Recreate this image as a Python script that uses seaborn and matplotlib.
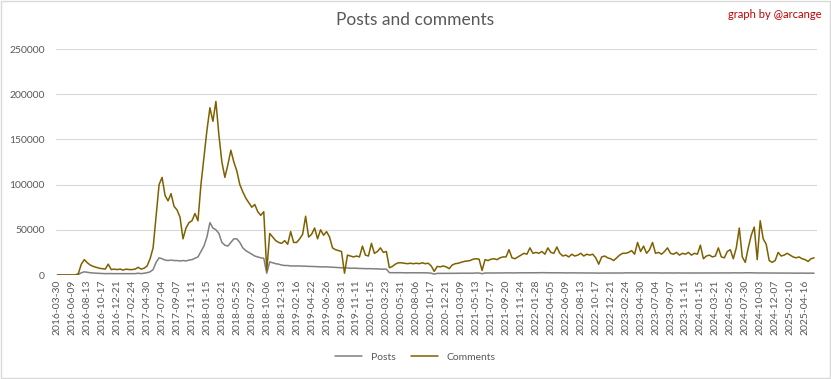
import numpy as np
import pandas as pd
import matplotlib
matplotlib.use("Agg")
import matplotlib.pyplot as plt
import seaborn as sns


# one label every 65 rows of the daily table
tick_labels = [
    "2016-03-30", "2016-06-09", "2016-08-13", "2016-10-17", "2016-12-21",
    "2017-02-24", "2017-04-30", "2017-07-04", "2017-09-07", "2017-11-11",
    "2018-01-15", "2018-03-21", "2018-05-25", "2018-07-29", "2018-10-06",
    "2018-12-13", "2019-02-16", "2019-04-22", "2019-06-26", "2019-08-31",
    "2019-11-11", "2020-01-15", "2020-03-23", "2020-05-31", "2020-08-06",
    "2020-10-17", "2020-12-21", "2021-03-09", "2021-05-13", "2021-07-17",
    "2021-09-20", "2021-11-24", "2022-01-28", "2022-04-05", "2022-06-09",
    "2022-08-13", "2022-10-17", "2022-12-21", "2023-02-24", "2023-04-30",
    "2023-07-04", "2023-09-07", "2023-11-11", "2024-01-15", "2024-03-21",
    "2024-05-26", "2024-07-30", "2024-10-03", "2024-12-07", "2025-02-10",
    "2025-04-16",
]

# values, one every 13 rows (5 per label interval)
comments = [
    0, 0, 0, 0, 0,
    0, 0, 1500, 12000, 17000,
    13500, 11000, 9500, 8500, 7500,
    7000, 6500, 12000, 6000, 6500,
    6000, 6500, 5500, 6500, 6000,
    6000, 6500, 8500, 6500, 7500,
    10000, 18000, 30000, 65000, 100000,
    108000, 88000, 82000, 90000, 76000,
    72000, 64000, 40000, 52000, 58000,
    60000, 68000, 60000, 100000, 130000,
    160000, 185000, 170000, 192000, 155000,
    125000, 108000, 122000, 138000, 125000,
    115000, 100000, 92000, 85000, 80000,
    75000, 78000, 70000, 66000, 70000,
    5000, 46000, 42000, 38000, 36000,
    35000, 38000, 34000, 48000, 36000,
    36000, 40000, 45000, 65000, 42000,
    45000, 52000, 40000, 50000, 44000,
    48000, 42000, 30000, 28000, 27000,
    26000, 2000, 22000, 21000, 20000,
    21000, 20000, 32000, 22000, 21000,
    35000, 24000, 26000, 30000, 25000,
    26000, 8000, 9500, 12000, 13500,
    13500, 13000, 12500, 13000, 12500,
    13000, 12500, 13500, 12500, 13000,
    10000, 4000, 9500, 9000, 10000,
    9000, 7000, 11000, 12500, 13000,
    14000, 15000, 15500, 16000, 17500,
    18000, 17500, 5000, 17000, 16000,
    17500, 18000, 17000, 19000, 20000,
    20000, 28000, 19000, 18000, 20000,
    22000, 24000, 23000, 30000, 24000,
    25000, 24000, 26000, 23000, 30000,
    25000, 24000, 31000, 24000, 21000,
    22000, 20000, 23000, 21000, 22000,
    24000, 21000, 23000, 22000, 23000,
    19000, 12000, 20000, 21000, 19000,
    18000, 16000, 19000, 22000, 24000,
    24000, 25000, 27000, 23000, 36000,
    26000, 32000, 24000, 28000, 36000,
    24000, 25000, 23000, 26000, 30000,
    24000, 23000, 25000, 22000, 24000,
    23000, 25000, 22000, 24000, 23000,
    33000, 18000, 21000, 22000, 20000,
    21000, 30000, 20000, 19000, 26000,
    28000, 18000, 30000, 52000, 20000,
    14000, 30000, 44000, 53000, 17000,
    60000, 40000, 34000, 16000, 14000,
    16000, 25000, 21000, 22000, 24000,
    22000, 20000, 19000, 20000, 18000,
    17000, 15000, 18000, 19000,
]

posts = [
    0, 0, 0, 0, 0,
    0, 0, 500, 2500, 3500,
    3000, 2500, 2200, 2000, 1800,
    1600, 1500, 1600, 1500, 1500,
    1500, 1500, 1400, 1500, 1500,
    1500, 1500, 2000, 1500, 2000,
    2500, 3500, 6000, 14000, 19000,
    18000, 16500, 16000, 16500, 16000,
    16000, 15500, 16000, 15500, 16500,
    17000, 18500, 20000, 26000, 32000,
    42000, 58000, 52000, 50000, 46000,
    36000, 33000, 32000, 36000, 40000,
    40000, 36000, 30000, 27000, 25000,
    23000, 21000, 20000, 19000, 18500,
    2000, 14500, 13500, 12500, 12000,
    11000, 10500, 10500, 10000, 10000,
    10000, 10000, 9800, 9800, 9500,
    9500, 9300, 9200, 9000, 9000,
    9000, 8800, 8500, 8500, 8300,
    8000, 7800, 7800, 7500, 7500,
    7500, 7200, 7200, 7000, 7000,
    7000, 6800, 6800, 6500, 6500,
    6500, 2600, 2500, 2500, 2600,
    2500, 2500, 2400, 2500, 2500,
    2400, 2400, 2500, 2400, 2300,
    2000, 1000, 1800, 1800, 1800,
    1800, 1700, 1800, 1900, 2000,
    2000, 2000, 2100, 2000, 2000,
    2200, 2200, 1500, 2200, 2200,
    2300, 2300, 2200, 2300, 2300,
    2400, 2400, 2300, 2400, 2400,
    2400, 2500, 2400, 2400, 2500,
    2500, 2500, 2600, 2500, 2500,
    2500, 2500, 2400, 2500, 2400,
    2300, 2300, 2400, 2300, 2300,
    2300, 2300, 2200, 2300, 2300,
    2200, 2100, 2200, 2200, 2200,
    2200, 2200, 2300, 2200, 2200,
    2400, 2400, 2300, 2400, 2400,
    2400, 2500, 2400, 2400, 2300,
    2300, 2300, 2200, 2300, 2300,
    2200, 2200, 2300, 2200, 2200,
    2200, 2200, 2100, 2200, 2200,
    2200, 2200, 2300, 2200, 2200,
    2300, 2300, 2200, 2300, 2300,
    2300, 2400, 2300, 2300, 2400,
    2400, 2500, 2400, 2400, 2300,
    2200, 2300, 2200, 2200, 2200,
    2200, 2200, 2100, 2200, 2200,
    2100, 2100, 2000, 2100, 2100,
    2000, 2000, 2100, 2000,
]

row_step = 13
label_step = 65

n = len(comments)
rows = np.arange(n) * row_step
df = pd.DataFrame({
    "row": np.concatenate([rows, rows]),
    "value": posts + comments,
    "series": ["Posts"] * n + ["Comments"] * n,
})

sns.set_theme(style="white")
plt.rcParams["font.family"] = ["Lato", "DejaVu Sans"]
grey = "#595959"

fig = plt.figure(figsize=(8.31, 3.79), dpi=100)
ax = fig.add_axes([0.0674, 0.2744, 0.9158, 0.5963])

sns.lineplot(data=df, x="row", y="value", hue="series",
             palette={"Posts": "#808080", "Comments": "#7f6000"},
             linewidth=1.1, estimator=None, sort=False, ax=ax)

ax.set_xlim(-6, 3302)
ax.set_ylim(0, 250000)
ax.set_yticks(np.arange(0, 250001, 50000))
ax.yaxis.set_major_formatter(matplotlib.ticker.StrMethodFormatter("{x:.0f}"))
ax.set_xticks(np.arange(len(tick_labels)) * label_step)
ax.set_xticklabels(tick_labels, rotation=90)
ax.tick_params(axis="both", length=0, labelsize=7.5, labelcolor=grey)
ax.tick_params(axis="y", pad=8)
ax.tick_params(axis="x", pad=3.5)
ax.grid(axis="y", color="#d9d9d9", linewidth=0.8)
ax.set_axisbelow(True)
for s in ax.spines.values():
    s.set_visible(False)
ax.set_xlabel("")
ax.set_ylabel("")

sns.move_legend(ax, "center", bbox_to_anchor=(0.5, 0.058),
                bbox_transform=fig.transFigure, ncol=2, frameon=False,
                title=None, fontsize=7.5, handlelength=2.6, columnspacing=1.5)
for t in ax.get_legend().get_texts():
    t.set_color(grey)

fig.text(0.5, 1 - 20 / 379, "Posts and comments", ha="center", va="center",
         fontsize=12.5, color=grey)
fig.text(0.988, 1 - 15 / 379, "graph by @arcange", ha="right", va="center",
         fontsize=8, color="#c00000")

fig.patches.append(plt.Rectangle((0.001, 0.002), 0.998, 0.996,
                                 transform=fig.transFigure, fill=False,
                                 edgecolor="#d9d9d9", linewidth=1))

fig.savefig("out.png", dpi=100)
